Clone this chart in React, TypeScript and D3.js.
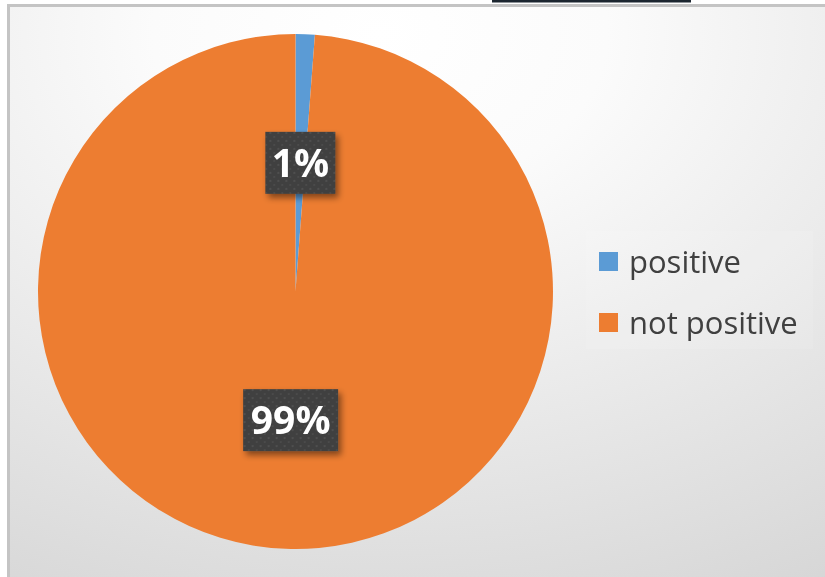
import React, { useRef, useEffect } from 'react';
import * as d3 from 'd3';

// data
const categories = ['positive', 'not positive'];
const shares = [1.2, 98.8];
const colors = ['#5b9bd5', '#ed7d31'];

const W = 825;
const H = 577;

function drawPie(svgEle: SVGSVGElement) {
  const svg = d3.select(svgEle);
  svg.selectAll('*').remove();

  const defs = svg.append('defs');

  // 背景渐变
  const grad = defs
    .append('radialGradient')
    .attr('id', 'bg')
    .attr('cx', '45%')
    .attr('cy', '5%')
    .attr('r', '110%');
  grad.append('stop').attr('offset', '0%').attr('stop-color', '#ffffff');
  grad.append('stop').attr('offset', '25%').attr('stop-color', '#fbfbfb');
  grad.append('stop').attr('offset', '100%').attr('stop-color', '#d6d6d6');

  // dotted label fill
  const pat = defs
    .append('pattern')
    .attr('id', 'dots')
    .attr('width', 8)
    .attr('height', 8)
    .attr('patternUnits', 'userSpaceOnUse');
  pat.append('rect').attr('width', 8).attr('height', 8).attr('fill', '#3f3f3f');
  pat.append('rect').attr('x', 1).attr('y', 1).attr('width', 2).attr('height', 2).attr('fill', '#505050');
  pat.append('rect').attr('x', 5).attr('y', 5).attr('width', 2).attr('height', 2).attr('fill', '#4b4b4b');

  const shadow = defs.append('filter').attr('id', 'shadow').attr('x', '-20%').attr('y', '-20%').attr('width', '150%').attr('height', '150%');
  shadow
    .append('feDropShadow')
    .attr('dx', 3)
    .attr('dy', 4)
    .attr('stdDeviation', 3)
    .attr('flood-color', '#000')
    .attr('flood-opacity', 0.45);

  // dark bar at the very top
  svg.append('rect').attr('x', 492).attr('y', 0).attr('width', 199).attr('height', 2.5).attr('fill', '#1c2630');

  // chart area + border
  svg
    .append('rect')
    .attr('x', 8.5)
    .attr('y', 5.5)
    .attr('width', W)
    .attr('height', H)
    .attr('fill', 'url(#bg)')
    .attr('stroke', '#c4c4c4')
    .attr('stroke-width', 3);

  const cx = 295.5;
  const cy = 291.5;
  const radius = 257.5;

  const pie = d3
    .pie<number>()
    .sort(null)
    .value((d) => d)
    .startAngle(0)
    .endAngle(2 * Math.PI);
  const arcs = pie(shares);
  const arc = d3.arc<d3.PieArcDatum<number>>().innerRadius(0).outerRadius(radius);
  const labelArc = d3.arc<d3.PieArcDatum<number>>().innerRadius(radius * 0.5).outerRadius(radius * 0.5);

  const g = svg.append('g').attr('transform', `translate(${cx},${cy})`);
  g.selectAll('path.slice')
    .data(arcs)
    .enter()
    .append('path')
    .attr('class', 'slice')
    .attr('d', arc)
    .attr('fill', (_d, i) => colors[i]);

  const total = d3.sum(shares);
  const boxW = [70, 95];
  const boxH = 62;
  const labels = g
    .selectAll('g.lbl')
    .data(arcs)
    .enter()
    .append('g')
    .attr('class', 'lbl')
    .attr('transform', (d) => {
      const [x, y] = labelArc.centroid(d);
      return `translate(${x},${y})`;
    });
  labels
    .append('rect')
    .attr('x', (_d, i) => -boxW[i] / 2)
    .attr('y', -boxH / 2)
    .attr('width', (_d, i) => boxW[i])
    .attr('height', boxH)
    .attr('fill', 'url(#dots)')
    .attr('filter', 'url(#shadow)');
  labels
    .append('text')
    .attr('text-anchor', 'middle')
    .attr('y', 14)
    .attr('fill', '#ffffff')
    .style('font-family', '"Open Sans", sans-serif')
    .style('font-weight', 700)
    .style('font-size', '39px')
    .text((d) => `${Math.round((d.value / total) * 100)}%`);

  // 图例 (faint box behind it)
  svg
    .append('rect')
    .attr('x', 586)
    .attr('y', 231)
    .attr('width', 227)
    .attr('height', 118)
    .attr('fill', '#ffffff')
    .attr('opacity', 0.1);
  const legend = svg.append('g').attr('transform', 'translate(599,252)');
  const item = legend
    .selectAll('g')
    .data(categories)
    .enter()
    .append('g')
    .attr('transform', (_d, i) => `translate(0,${i * 61})`);
  item
    .append('rect')
    .attr('width', 19)
    .attr('height', 19)
    .attr('fill', (_d, i) => colors[i]);
  item
    .append('text')
    .attr('x', 30)
    .attr('y', 20.5)
    .attr('fill', '#404040')
    .style('font-family', '"Open Sans", sans-serif')
    .style('font-size', '31px')
    .text((d) => d);
}

export default function App(): JSX.Element {
  const svgRef = useRef<SVGSVGElement>(null);

  useEffect(() => {
    const svgEle = svgRef.current;
    if (svgEle == null) {
      return;
    }
    drawPie(svgEle);
  }, []);

  return (
    <svg
      ref={svgRef}
      width={W}
      height={H}
      style={{ position: 'fixed', left: 0, top: 0, display: 'block' }}
    />
  );
}
